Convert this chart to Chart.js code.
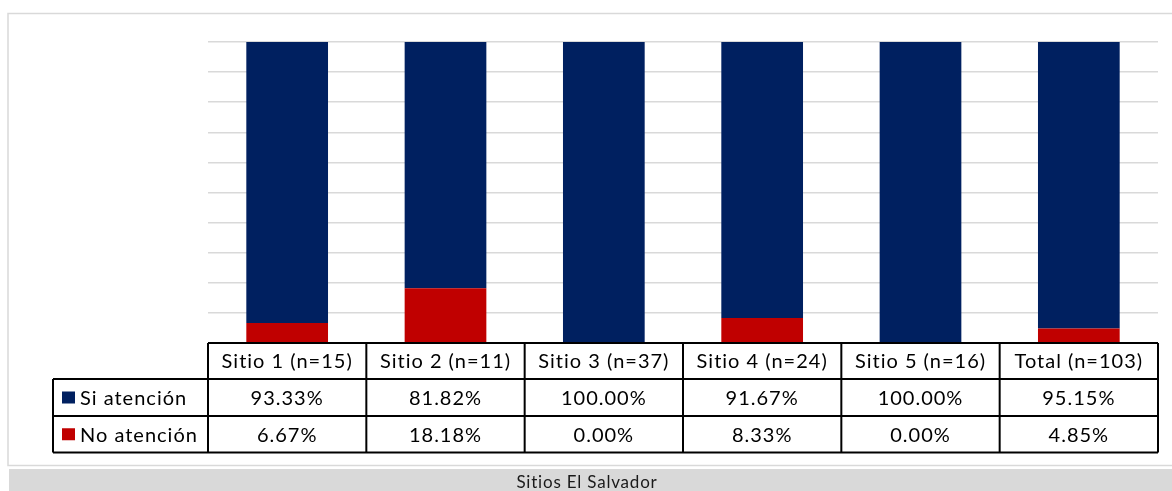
<!DOCTYPE html>
<html>
<head>
<meta charset="utf-8">
<script src="https://cdn.jsdelivr.net/npm/chart.js@4.4.1/dist/chart.umd.min.js"></script>
<style>
  html, body { margin: 0; padding: 0; background: #ffffff; overflow: hidden; }
  #wrap { position: relative; width: 1172px; height: 491px; }
</style>
</head>
<body>
<div id="wrap"><canvas id="c" width="1172" height="491"></canvas></div>
<script>
// Data
const categories = ['Sitio 1 (n=15)', 'Sitio 2 (n=11)', 'Sitio 3 (n=37)', 'Sitio 4 (n=24)', 'Sitio 5 (n=16)', 'Total (n=103)'];
const siAtencion = [93.33, 81.82, 100.00, 91.67, 100.00, 95.15];
const noAtencion = [6.67, 18.18, 0.00, 8.33, 0.00, 4.85];
const seriesNames = ['Si atención', 'No atención'];
const axisTitle = 'Sitios El Salvador';

const COLOR_SI = '#002060';
const COLOR_NO = '#C00000';
const FONT = 'Lato, "Open Sans", sans-serif';

// Data table underneath the plot, frame and category axis band
const tablePlugin = {
  id: 'dataTable',
  afterDraw(chart) {
    const ctx = chart.ctx;
    const area = chart.chartArea;
    const xs = chart.scales.x;
    const n = categories.length;
    const colW = (area.right - area.left) / n;
    const top = area.bottom;
    const rowH = [36, 37, 36.5];
    const y1 = top + rowH[0];
    const y2 = y1 + rowH[1];
    const y3 = y2 + rowH[2];
    const labelLeft = 53;

    ctx.save();

    // outer frame
    ctx.strokeStyle = '#d9d9d9';
    ctx.lineWidth = 1.5;
    ctx.strokeRect(8, 13.5, 1170, 452);

    // axis title band
    ctx.fillStyle = '#d9d9d9';
    ctx.fillRect(9, 469, 1163, 22);
    ctx.fillStyle = '#1a1a1a';
    ctx.font = '17px ' + FONT;
    ctx.letterSpacing = '0.8px';
    ctx.textAlign = 'center';
    ctx.textBaseline = 'middle';
    ctx.fillText(axisTitle, 587, 483);

    // table grid
    ctx.strokeStyle = '#000000';
    ctx.lineWidth = 2;
    ctx.beginPath();
    ctx.moveTo(area.left, top); ctx.lineTo(area.right, top);
    [y1, y2, y3].forEach(y => { ctx.moveTo(labelLeft, y); ctx.lineTo(area.right, y); });
    ctx.moveTo(labelLeft, y1); ctx.lineTo(labelLeft, y3);
    for (let i = 0; i <= n; i++) {
      const x = area.left + i * colW;
      ctx.moveTo(x, top); ctx.lineTo(x, y3);
    }
    ctx.stroke();

    // header and values
    ctx.fillStyle = '#000000';
    ctx.font = '20px ' + FONT;
    ctx.letterSpacing = '1px';
    ctx.textAlign = 'center';
    ctx.textBaseline = 'middle';
    const rows = [siAtencion, noAtencion];
    categories.forEach((cat, i) => {
      const cx = xs.getPixelForValue(i);
      ctx.fillText(cat, cx, (top + y1) / 2 + 1);
      ctx.fillText(rows[0][i].toFixed(2) + '%', cx, (y1 + y2) / 2 + 1);
      ctx.fillText(rows[1][i].toFixed(2) + '%', cx, (y2 + y3) / 2 + 1);
    });

    // row labels with legend keys
    const keyColors = [COLOR_SI, COLOR_NO];
    const rowMid = [(y1 + y2) / 2, (y2 + y3) / 2];
    seriesNames.forEach((name, r) => {
      ctx.fillStyle = keyColors[r];
      ctx.fillRect(62, rowMid[r] - 6, 13, 12);
      ctx.fillStyle = '#000000';
      ctx.textAlign = 'left';
      ctx.fillText(name, 80, rowMid[r] + 1);
    });

    ctx.restore();
  }
};

new Chart(document.getElementById('c'), {
  type: 'bar',
  data: {
    labels: categories,
    datasets: [
      { label: seriesNames[1], data: noAtencion, backgroundColor: COLOR_NO, stack: 's' },
      { label: seriesNames[0], data: siAtencion, backgroundColor: COLOR_SI, stack: 's' }
    ]
  },
  options: {
    responsive: false,
    animation: false,
    devicePixelRatio: 1,
    layout: { padding: { left: 208, right: 14, top: 42, bottom: 148 } },
    categoryPercentage: 0.516,
    barPercentage: 1,
    plugins: {
      legend: { display: false },
      title: { display: false },
      tooltip: { enabled: false }
    },
    scales: {
      x: {
        stacked: true,
        ticks: { display: false },
        grid: { display: false, drawTicks: false },
        border: { display: false },
        afterFit: s => { s.height = 0; }
      },
      y: {
        stacked: true,
        min: 0,
        max: 100,
        ticks: { display: false, stepSize: 10 },
        grid: { color: '#d9d9d9', lineWidth: 1.5, drawTicks: false },
        border: { display: false },
        afterFit: s => { s.width = 0; }
      }
    }
  },
  plugins: [tablePlugin]
});
</script>
</body>
</html>
